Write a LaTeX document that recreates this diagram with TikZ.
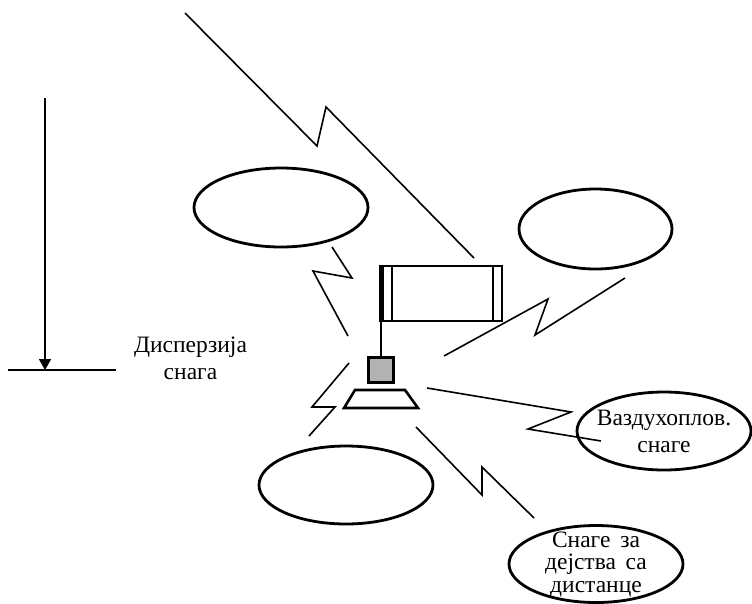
\documentclass[tikz,border=0pt]{standalone}
\usepackage{fontspec}
\setmainfont{Liberation Serif}
\usetikzlibrary{arrows.meta, shapes.geometric}

\begin{document}
\begin{tikzpicture}[x=1pt, y=-1pt, main/.style = {ellipse, draw, line width=2.8pt, inner sep=-15pt, align=center, font=\fontsize{23.5}{27}\selectfont}, bolt/.style = {line width=1.6pt, line join=miter}, caption/.style = {align=center, font=\fontsize{23.5}{27}\selectfont}]
	\useasboundingbox (0,0) rectangle (752,603);
	% ellipses
	\node[main, minimum width=174pt, minimum height=79pt] (west) at (281,207.5) {};
	\node[main, minimum width=153pt, minimum height=80pt] (east) at (595.5,229) {};
	\node[main, minimum width=174pt, minimum height=78pt] (south) at (346,485) {};
	\node[main, minimum width=174pt, minimum height=78pt] (air) at (664,431) {Ваздухоплов.\\снаге};
	\node[main, minimum width=174pt, minimum height=77pt, font=\fontsize{23.5}{22.5}\selectfont] (far) at (596,564) {Снаге\, за\\дејства\, са\\дистанце};
	% command post
	\node[draw, line width=2.4pt, minimum width=121pt, minimum height=55pt] (flag) at (441.5,293.5) {};
	\node[draw, line width=3pt, fill=black!30, minimum size=25pt, inner sep=0pt] (post) at (381,369.5) {};
	\draw[line width=2.2pt] (post.north) -- (post.north |- flag.south);
	\fill ([xshift=-1pt]flag.north west) rectangle ([xshift=4pt]flag.south west);
	\draw[line width=1.5pt] ([xshift=12pt]flag.north west) -- ([xshift=12pt]flag.south west);
	\draw[line width=1.5pt] ([xshift=-10pt]flag.north east) -- ([xshift=-10pt]flag.south east);
	\draw[line width=2.6pt] (355,390) -- (405,390) -- (418,408) -- (344,408) -- cycle;
	% bolts
	\coordinate (a1) at (185,13);
	\coordinate (a2) at (317,146);
	\coordinate (a3) at (326,107);
	\coordinate (a4) at (474,258);
	\coordinate (b1) at (332,247);
	\coordinate (b2) at (352,278);
	\coordinate (b3) at (313,271);
	\coordinate (b4) at (348,336);
	\coordinate (c1) at (444,356);
	\coordinate (c2) at (548,299);
	\coordinate (c3) at (535,335);
	\coordinate (c4) at (625,278);
	\coordinate (d1) at (349,363);
	\coordinate (d2) at (312,407);
	\coordinate (d3) at (335,407);
	\coordinate (d4) at (309,436);
	\coordinate (e1) at (427,388);
	\coordinate (e2) at (571,412);
	\coordinate (e3) at (528,429);
	\coordinate (e4) at (601,441);
	\coordinate (f1) at (416,427);
	\coordinate (f2) at (482,495);
	\coordinate (f3) at (482,467);
	\coordinate (f4) at (534,518);
	\draw[bolt] (a1) -- (a2) -- (a3) -- (a4);
	\draw[bolt] (b1) -- (b2) -- (b3) -- (b4);
	\draw[bolt] (c1) -- (c2) -- (c3) -- (c4);
	\draw[bolt] (d1) -- (d2) -- (d3) -- (d4);
	\draw[bolt] (e1) -- (e2) -- (e3) -- (e4);
	\draw[bolt] (f1) -- (f2) -- (f3) -- (f4);
	% dispersion
	\coordinate (arrowtop) at (45,98);
	\coordinate (arrowbase) at (45,370);
	\coordinate (lineleft) at (8,370);
	\coordinate (lineright) at (116,370);
	\draw[line width=1.6pt, -{Triangle[width=12pt, length=11pt]}] (arrowtop) -- (arrowbase);
	\draw[line width=1.8pt] (lineleft) -- (lineright);
	\node[caption] (disp) at (190.5,358) {Дисперзија\\снага};
\end{tikzpicture}
\end{document}
